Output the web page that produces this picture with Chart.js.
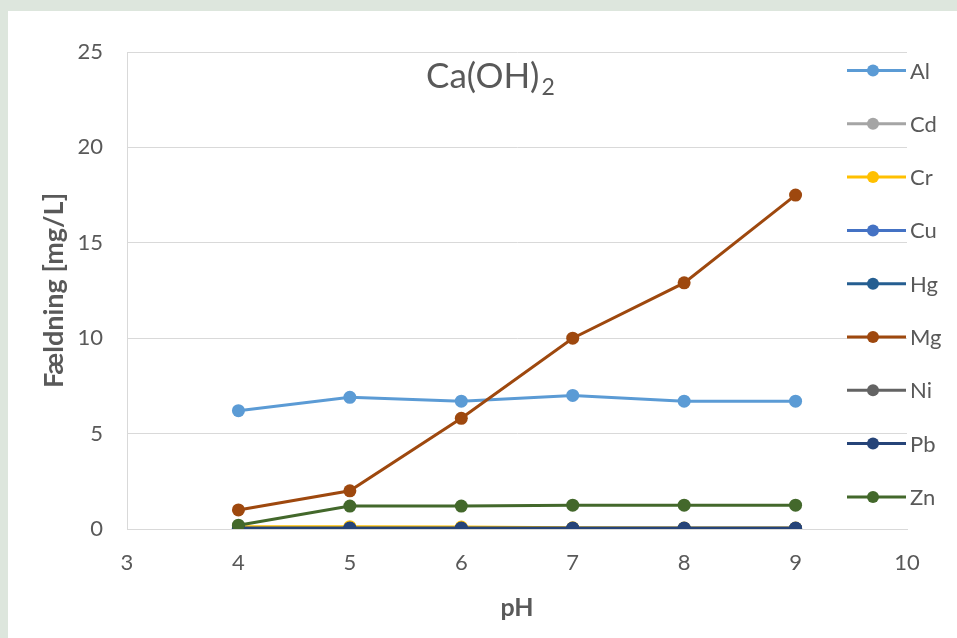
<!DOCTYPE html>
<html>
<head>
<meta charset="utf-8">
<script src="https://cdn.jsdelivr.net/npm/chart.js@4"></script>
<style>
  html, body { margin: 0; padding: 0; background: #dde6dd; }
  #wrap { position: absolute; left: 0; top: 0; width: 957px; height: 638px; }
</style>
</head>
<body>
<div id="wrap"><canvas id="chart" width="957" height="638"></canvas></div>
<script>
// ---------- Dados ----------
const phValues = [4, 5, 6, 7, 8, 9];
const metals = ["Al", "Cd", "Cr", "Cu", "Hg", "Mg", "Ni", "Pb", "Zn"];
const colors = ["#5B9BD5", "#A5A5A5", "#FFC000", "#4472C4", "#255E91", "#9E480E", "#636363", "#264478", "#43682B"];

const al = [6.2, 6.9, 6.7, 7.0, 6.7, 6.7];
const cd = [0.02, 0.02, 0.02, 0.02, 0.02, 0.02];
const cr = [0.12, 0.12, 0.1, 0.06, 0.05, 0.05];
const cu = [0.03, 0.03, 0.03, 0.03, 0.03, 0.03];
const hg = [0.02, 0.02, 0.02, 0.02, 0.02, 0.02];
const mg = [1.0, 2.0, 5.8, 10.0, 12.9, 17.5];
const ni = [0.03, 0.03, 0.03, 0.03, 0.03, 0.03];
const pb = [0.05, 0.05, 0.05, 0.05, 0.05, 0.05];
const zn = [0.2, 1.2, 1.2, 1.25, 1.25, 1.25];
const series = [al, cd, cr, cu, hg, mg, ni, pb, zn];

const xTicks = [3, 4, 5, 6, 7, 8, 9, 10];
const yTicks = [0, 5, 10, 15, 20, 25];

const TEXT = "#595959";
const FONT = "Lato, 'Open Sans', sans-serif";

// ---------- Plugins ----------
const panelBg = {
  id: "panelBg",
  beforeDraw(chart) {
    const c = chart.ctx;
    c.save();
    c.fillStyle = "#dde6dd";
    c.fillRect(0, 0, chart.width, chart.height);
    c.fillStyle = "#ffffff";
    c.fillRect(8, 11, chart.width - 8, chart.height - 11);
    c.restore();
  }
};

const innerTitle = {
  id: "innerTitle",
  afterDatasetsDraw(chart) {
    const c = chart.ctx;
    c.save();
    c.fillStyle = TEXT;
    c.textBaseline = "alphabetic";
    c.font = "35px " + FONT;
    const main = "Ca(OH)";
    const w = c.measureText(main).width;
    const x0 = 426;
    c.fillText(main, x0, 88);
    c.font = "23px " + FONT;
    c.fillText("2", x0 + w + 2, 95);
    c.restore();
  }
};

const sideLegend = {
  id: "sideLegend",
  afterDraw(chart) {
    const c = chart.ctx;
    c.save();
    c.font = "22px " + FONT;
    c.textBaseline = "middle";
    chart.data.datasets.forEach((ds, i) => {
      const y = 70.5 + i * 53.3;
      c.strokeStyle = ds.borderColor;
      c.lineWidth = 3;
      c.beginPath();
      c.moveTo(847, y);
      c.lineTo(906, y);
      c.stroke();
      c.fillStyle = ds.borderColor;
      c.beginPath();
      c.arc(873, y, 6, 0, Math.PI * 2);
      c.fill();
      c.fillStyle = TEXT;
      c.fillText(ds.label, 910, y + 1);
    });
    c.restore();
  }
};

// ---------- Gráfico ----------
const datasets = metals.map((m, i) => ({
  label: m,
  data: phValues.map((x, j) => ({ x: x, y: series[i][j] })),
  borderColor: colors[i],
  backgroundColor: colors[i],
  borderWidth: 3,
  pointRadius: 6.5,
  pointHoverRadius: 6.5,
  pointBorderWidth: 0,
  tension: 0,
  order: metals.length - i
}));

new Chart(document.getElementById("chart"), {
  type: "line",
  data: { datasets },
  options: {
    responsive: false,
    animation: false,
    events: [],
    layout: { padding: { left: 0, right: 50, top: 52, bottom: 0 } },
    plugins: { legend: { display: false }, tooltip: { enabled: false } },
    scales: {
      x: {
        type: "linear",
        min: 3,
        max: 10,
        afterBuildTicks: s => { s.ticks = xTicks.map(v => ({ value: v })); },
        afterFit: s => { s.height = 109; },
        grid: { display: false, drawTicks: false },
        border: { display: true, color: "#d9d9d9", width: 1 },
        ticks: { color: TEXT, font: { family: FONT, size: 22 }, padding: 21 },
        title: {
          display: true, text: "pH", color: TEXT,
          font: { family: FONT, size: 25, weight: "bold" },
          padding: { top: 0, bottom: 15 }
        }
      },
      y: {
        min: 0,
        max: 25,
        afterBuildTicks: s => { s.ticks = yTicks.map(v => ({ value: v })); },
        afterFit: s => { s.width = 127; },
        grid: { color: "#d9d9d9", lineWidth: 1, drawTicks: false },
        border: { display: true, color: "#d9d9d9", width: 1 },
        ticks: { color: TEXT, font: { family: FONT, size: 22 }, padding: 24 },
        title: {
          display: true, text: "Fældning [mg/L]", color: TEXT,
          font: { family: FONT, size: 27, weight: "bold" },
          padding: { top: 38, bottom: 0 }
        }
      }
    }
  },
  plugins: [panelBg, innerTitle, sideLegend]
});
</script>
</body>
</html>
